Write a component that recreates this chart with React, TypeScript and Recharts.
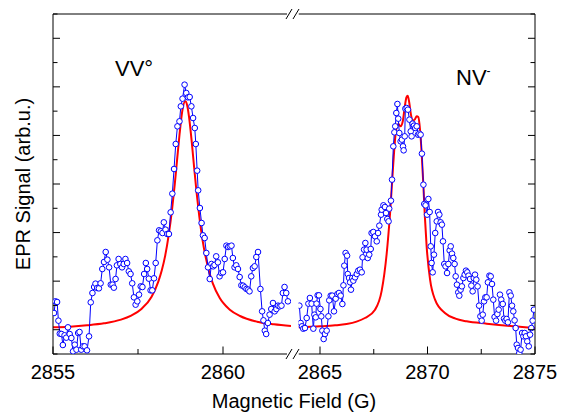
import React from 'react';
import { ComposedChart, Line, XAxis, YAxis, ReferenceLine, ReferenceDot } from 'recharts';

const W = 573;
const H = 415;
const FONT = '"Liberation Sans", Arial, Helvetica, sans-serif';

// Axis setup
const leftDomain: [number, number] = [2855, 2862];
const rightDomain: [number, number] = [2864, 2875];
const leftTicks = [2855, 2857.5, 2860];
const rightTicks = [2865, 2867.5, 2870, 2872.5, 2875];
const labeledTicks = [2855, 2860, 2865, 2870, 2875];
const yMax = 1020;
const yTickCount = 14;
const yTicks = Array.from({ length: yTickCount + 1 }, (_, k) => (k * yMax) / yTickCount);

// Measured EPR signal (field in G, signal in arb. u.) — VV° region
const blueLeft: [number, number][] = [
  [2855.03,123],[2855.07,158],[2855.12,156],[2855.16,100],[2855.20,61],[2855.25,60],[2855.29,27],[2855.34,56],[2855.39,49],[2855.44,80],
  [2855.49,60],[2855.54,48],[2855.59,8],[2855.64,28],[2855.69,13],[2855.74,63],[2855.78,66],[2855.83,13],[2855.88,23],[2855.93,23],
  [2856.00,11],[2856.06,53],[2856.11,155],[2856.16,183],[2856.21,201],[2856.25,211],[2856.30,198],[2856.35,197],[2856.40,212],[2856.45,255],
  [2856.50,276],[2856.55,306],[2856.60,283],[2856.65,260],[2856.70,208],[2856.75,208],[2856.79,199],[2856.84,225],[2856.88,266],[2856.93,285],
  [2856.98,270],[2857.03,260],[2857.08,270],[2857.13,285],[2857.18,273],[2857.23,248],[2857.28,240],[2857.33,212],[2857.38,170],[2857.43,148],
  [2857.48,158],[2857.53,178],[2857.58,203],[2857.63,201],[2857.68,240],[2857.73,273],[2857.77,255],[2857.82,226],[2857.87,191],[2857.92,191],
  [2857.97,227],[2858.02,273],[2858.07,341],[2858.12,371],[2858.17,368],[2858.22,363],[2858.26,395],[2858.31,373],[2858.36,360],[2858.41,360],
  [2858.46,425],[2858.51,481],[2858.56,555],[2858.61,630],[2858.66,683],[2858.72,698],[2858.76,743],[2858.81,766],[2858.87,808],[2858.92,783],
  [2858.97,770],[2859.02,771],[2859.07,743],[2859.12,708],[2859.17,678],[2859.20,630],[2859.24,550],[2859.27,491],[2859.32,438],[2859.37,393],
  [2859.41,356],[2859.46,348],[2859.51,303],[2859.56,260],[2859.61,225],[2859.66,270],[2859.71,263],[2859.75,267],[2859.80,293],[2859.85,275],
  [2859.90,233],[2859.95,243],[2860.00,245],[2860.05,285],[2860.10,325],[2860.15,321],[2860.20,323],[2860.25,325],[2860.29,288],[2860.34,260],
  [2860.39,266],[2860.44,255],[2860.49,231],[2860.54,206],[2860.59,205],[2860.64,200],[2860.69,195],[2860.74,193],[2860.78,188],[2860.83,233],
  [2860.88,258],[2860.93,263],[2860.98,291],[2861.03,306],[2861.10,195],[2861.15,128],[2861.19,101],[2861.23,70],[2861.27,60],[2861.32,93],
  [2861.37,118],[2861.42,135],[2861.47,153],[2861.52,128],[2861.57,135],[2861.62,145],[2861.67,143],[2861.72,145],[2861.76,183],[2861.81,201],
  [2861.86,183],[2861.91,158],
];

// Measured EPR signal — NV- region
const blueRight: [number, number][] = [
  [2864.04,145],[2864.10,93],[2864.16,83],[2864.22,76],[2864.30,78],[2864.38,108],[2864.46,151],[2864.53,168],[2864.61,151],[2864.69,76],
  [2864.74,118],[2864.80,110],[2864.84,151],[2864.89,176],[2864.95,176],[2865.02,135],[2865.06,113],[2865.11,70],[2865.17,45],[2865.23,60],
  [2865.31,70],[2865.39,113],[2865.43,161],[2865.50,175],[2865.57,175],[2865.65,128],[2865.73,166],[2865.81,180],[2865.88,183],[2865.96,175],
  [2866.04,150],[2866.09,206],[2866.13,265],[2866.19,303],[2866.26,295],[2866.29,240],[2866.35,228],[2866.40,215],[2866.44,193],[2866.50,228],
  [2866.55,220],[2866.63,230],[2866.71,240],[2866.78,250],[2866.86,253],[2866.94,245],[2866.98,290],[2867.05,313],[2867.11,333],[2867.17,313],
  [2867.22,288],[2867.29,298],[2867.36,315],[2867.40,363],[2867.48,366],[2867.56,353],[2867.64,338],[2867.70,363],[2867.76,385],[2867.84,418],
  [2867.87,433],[2867.95,446],[2868.02,441],[2868.07,423],[2868.13,405],[2868.19,398],[2868.22,436],[2868.30,460],[2868.35,523],[2868.41,623],
  [2868.46,665],[2868.50,683],[2868.55,723],[2868.60,750],[2868.64,706],[2868.69,663],[2868.75,638],[2868.81,643],[2868.86,623],[2868.89,611],
  [2868.94,653],[2868.97,736],[2869.03,738],[2869.09,733],[2869.16,703],[2869.22,668],[2869.26,653],[2869.31,691],[2869.37,685],[2869.43,678],
  [2869.50,683],[2869.56,658],[2869.62,661],[2869.68,658],[2869.74,601],[2869.81,508],[2869.85,450],[2869.91,446],[2869.98,418],[2870.04,465],
  [2870.10,426],[2870.15,323],[2870.19,273],[2870.24,245],[2870.30,298],[2870.36,363],[2870.43,398],[2870.49,426],[2870.55,418],[2870.61,395],
  [2870.67,388],[2870.72,338],[2870.78,270],[2870.84,263],[2870.91,243],[2870.97,270],[2871.03,311],[2871.08,323],[2871.14,301],[2871.20,288],
  [2871.26,270],[2871.31,233],[2871.37,208],[2871.43,185],[2871.48,175],[2871.54,193],[2871.60,203],[2871.67,228],[2871.73,238],[2871.79,250],
  [2871.85,245],[2871.91,235],[2871.98,225],[2872.04,205],[2872.10,188],[2872.15,228],[2872.21,238],[2872.27,223],[2872.33,203],[2872.40,145],
  [2872.46,113],[2872.52,100],[2872.57,118],[2872.63,158],[2872.69,170],[2872.75,170],[2872.81,215],[2872.88,235],[2872.94,233],[2873.00,210],
  [2873.06,163],[2873.12,111],[2873.19,100],[2873.25,120],[2873.31,133],[2873.37,178],[2873.43,163],[2873.50,150],[2873.56,106],[2873.62,100],
  [2873.68,105],[2873.74,95],[2873.81,185],[2873.87,175],[2873.93,145],[2873.99,128],[2874.05,101],[2874.10,78],[2874.15,28],[2874.21,18],
  [2874.27,3],[2874.33,13],[2874.40,63],[2874.46,53],[2874.52,63],[2874.58,53],[2874.64,38],[2874.71,23],[2874.77,58],[2874.83,78],
  [2874.89,100],[2874.95,133],
];

// Fitted curve (red)
const redLeft: [number, number][] = [
  [2855,80],[2855.5,82],[2856,86],[2856.5,92],[2857,103],[2857.3,115],[2857.6,135],[2857.9,172],[2858.1,218],[2858.2,251],
  [2858.3,295],[2858.4,355],[2858.5,432],[2858.58,508],[2858.65,583],[2858.72,657],[2858.8,727],[2858.89,758],[2858.95,744],[2859.0,712],
  [2859.08,637],[2859.15,561],[2859.22,488],[2859.3,415],[2859.4,341],[2859.5,286],[2859.6,244],[2859.7,212],[2859.9,169],[2860.0,154],
  [2860.2,133],[2860.5,114],[2861,97],[2861.5,89],[2862,84],
];
const redRight: [number, number][] = [
  [2864,80],[2865,83],[2865.7,86],[2866.24,90],[2866.7,97],[2867.09,108],[2867.56,133],[2867.87,190],[2868.1,300],[2868.26,423],
  [2868.41,573],[2868.5,650],[2868.57,683],[2868.65,690],[2868.75,683],[2868.85,698],[2868.95,745],[2869.02,770],[2869.08,775],[2869.15,755],
  [2869.23,718],[2869.31,700],[2869.4,703],[2869.5,713],[2869.57,711],[2869.65,675],[2869.73,600],[2869.81,503],[2869.88,410],[2869.96,323],
  [2870.12,223],[2870.35,163],[2870.81,123],[2871.3,106],[2871.82,98],[2872.75,91],[2873.99,83],[2875,78],
];

const toRows = (arr: [number, number][]) => arr.map(([x, y]) => ({ x, y }));

const BLUE = '#0000ff';
const RED = '#ff0000';

const XTick = (props: any) => {
  const { x, y, payload } = props;
  const v = payload.value;
  const major = labeledTicks.includes(v);
  return (
    <g>
      <line x1={x} x2={x} y1={y} y2={y - (major ? 7.5 : 5)} stroke="#000" strokeWidth={1} />
      {major && (
        <text x={x} y={y + 25} textAnchor="middle" fontSize={20} fontFamily={FONT} fill="#000">
          {v}
        </text>
      )}
    </g>
  );
};

const isMajorY = (v: number) => Math.round((v * yTickCount) / yMax) % 2 === 1;

const YTickL = (props: any) => {
  const { x, y, payload } = props;
  const len = isMajorY(payload.value) ? 7 : 4.5;
  return <line x1={x} x2={x + len} y1={y} y2={y} stroke="#000" strokeWidth={1} />;
};

const YTickR = (props: any) => {
  const { x, y, payload } = props;
  const len = isMajorY(payload.value) ? 7 : 4.5;
  return <line x1={x} x2={x - len} y1={y} y2={y} stroke="#000" strokeWidth={1} />;
};

const BreakMark = (props: any) => {
  const { cx, cy } = props;
  if (cx == null || cy == null) return null;
  return (
    <g>
      <rect x={cx - 11.5} y={cy - 3} width={11.5} height={6} fill="#fff" />
      <line x1={cx - 12.5} y1={cy + 5} x2={cx - 6.5} y2={cy - 5} stroke="#000" strokeWidth={1} />
      <line x1={cx - 5.5} y1={cy + 5} x2={cx + 0.5} y2={cy - 5} stroke="#000" strokeWidth={1} />
    </g>
  );
};

const PLOT_TOP = 14;
const PLOT_BOTTOM = 354;
const X_AXIS_H = 30;
const LEFT_PLOT_L = 53;
const LEFT_PLOT_R = 291;
const RIGHT_PLOT_L = 298.5;
const RIGHT_PLOT_R = 535;

export default function App() {
  const redL = toRows(redLeft);
  const blueL = toRows(blueLeft);
  const redR = toRows(redRight);
  const blueR = toRows(blueRight);
  const dot = { r: 2.8, stroke: BLUE, fill: '#fff', strokeWidth: 1 };

  return (
    <div style={{ position: 'absolute', left: 0, top: 0, width: W, height: H, background: '#fff' }}>
      <div style={{ position: 'absolute', left: 0, top: 0 }}>
        <ComposedChart
          width={W}
          height={H}
          margin={{ top: PLOT_TOP, right: W - LEFT_PLOT_R, bottom: H - PLOT_BOTTOM - X_AXIS_H, left: 0 }}
        >
          <XAxis
            xAxisId="b"
            type="number"
            dataKey="x"
            domain={leftDomain}
            ticks={leftTicks}
            interval={0}
            allowDataOverflow
            height={X_AXIS_H}
            tickLine={false}
            tickSize={0}
            tickMargin={0}
            tick={<XTick />}
            axisLine={{ stroke: '#000', strokeWidth: 1 }}
          />
          <YAxis
            yAxisId="l"
            type="number"
            domain={[0, yMax]}
            ticks={yTicks}
            interval={0}
            allowDataOverflow
            width={LEFT_PLOT_L}
            tickLine={false}
            tickSize={0}
            tickMargin={0}
            tick={<YTickL />}
            axisLine={{ stroke: '#000', strokeWidth: 1 }}
          />
          <ReferenceLine xAxisId="b" yAxisId="l" y={yMax} stroke="#000" strokeWidth={1} />
          <Line xAxisId="b" yAxisId="l" data={redL} dataKey="y" type="monotone" stroke={RED} strokeWidth={2} dot={false} isAnimationActive={false} />
          <Line xAxisId="b" yAxisId="l" data={blueL} dataKey="y" type="linear" stroke={BLUE} strokeWidth={1} dot={dot} isAnimationActive={false} />
        </ComposedChart>
      </div>
      <div style={{ position: 'absolute', left: 0, top: 0 }}>
        <ComposedChart
          width={W}
          height={H}
          margin={{ top: PLOT_TOP, right: 0, bottom: H - PLOT_BOTTOM - X_AXIS_H, left: RIGHT_PLOT_L }}
        >
          <XAxis
            xAxisId="b"
            type="number"
            dataKey="x"
            domain={rightDomain}
            ticks={rightTicks}
            interval={0}
            allowDataOverflow
            height={X_AXIS_H}
            tickLine={false}
            tickSize={0}
            tickMargin={0}
            tick={<XTick />}
            axisLine={{ stroke: '#000', strokeWidth: 1 }}
          />
          <YAxis
            yAxisId="r"
            orientation="right"
            type="number"
            domain={[0, yMax]}
            ticks={yTicks}
            interval={0}
            allowDataOverflow
            width={W - RIGHT_PLOT_R}
            tickLine={false}
            tickSize={0}
            tickMargin={0}
            tick={<YTickR />}
            axisLine={{ stroke: '#000', strokeWidth: 1 }}
          />
          <ReferenceLine xAxisId="b" yAxisId="r" y={yMax} stroke="#000" strokeWidth={1} />
          <Line xAxisId="b" yAxisId="r" data={redR} dataKey="y" type="monotone" stroke={RED} strokeWidth={2} dot={false} isAnimationActive={false} />
          <Line xAxisId="b" yAxisId="r" data={blueR} dataKey="y" type="linear" stroke={BLUE} strokeWidth={1} dot={dot} isAnimationActive={false} />
          <ReferenceDot xAxisId="b" yAxisId="r" x={rightDomain[0]} y={0} ifOverflow="visible" shape={<BreakMark />} />
          <ReferenceDot xAxisId="b" yAxisId="r" x={rightDomain[0]} y={yMax} ifOverflow="visible" shape={<BreakMark />} />
        </ComposedChart>
      </div>
      <svg width={W} height={H} style={{ position: 'absolute', left: 0, top: 0, pointerEvents: 'none' }}>
        <text transform="translate(29.5,184) rotate(-90)" textAnchor="middle" fontSize={20} fontFamily={FONT} fill="#000">
          EPR Signal (arb.u.)
        </text>
        <text x={294} y={408} textAnchor="middle" fontSize={20} fontFamily={FONT} fill="#000">
          Magnetic Field (G)
        </text>
        <text x={115} y={76} fontSize={22} fontFamily={FONT} fill="#000">
          VV°
        </text>
        <text x={456} y={85} fontSize={22} fontFamily={FONT} fill="#000">
          NV<tspan fontSize={12} dy={-10}>-</tspan>
        </text>
      </svg>
    </div>
  );
}
